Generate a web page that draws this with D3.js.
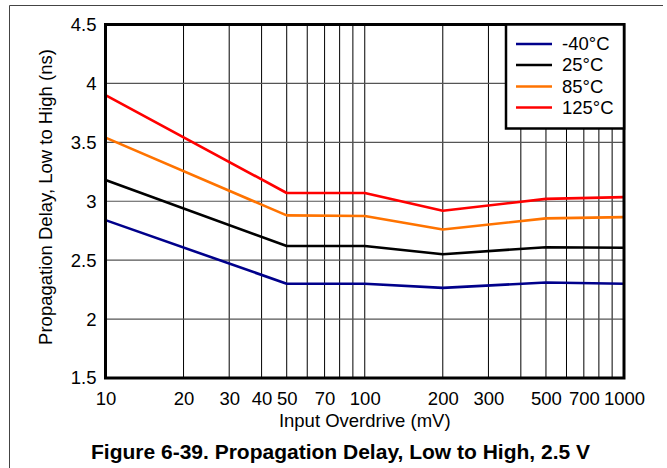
<!DOCTYPE html>
<html><head><meta charset="utf-8">
<script src="https://cdn.jsdelivr.net/npm/d3@7/dist/d3.min.js"></script>
<style>body{margin:0;background:#fff}svg{display:block;font-family:"Liberation Sans",Arial,sans-serif}</style>
</head><body>
<script>
const overdrive = [10, 50, 100, 200, 500, 1000];
const seriesNames = ["-40°C", "25°C", "85°C", "125°C"];
const seriesColors = ["#00008B", "#000000", "#FF7300", "#FF0000"];
const delayM40 = [2.84, 2.30, 2.30, 2.265, 2.31, 2.30];
const delay25 = [3.18, 2.62, 2.62, 2.55, 2.61, 2.605];
const delay85 = [3.54, 2.88, 2.875, 2.76, 2.855, 2.865];
const delay125 = [3.90, 3.07, 3.07, 2.92, 3.02, 3.035];
const xTicks = [10, 20, 30, 40, 50, 70, 100, 200, 300, 500, 700, 1000];
const xGrid = [20, 30, 40, 50, 60, 70, 80, 90, 100, 200, 300, 400, 500, 600, 700, 800, 900];
const yTicks = [1.5, 2, 2.5, 3, 3.5, 4, 4.5];
const series = [delayM40, delay25, delay85, delay125];

const W = 667, H = 468;
const L = 105.5, R = 624, T = 24.5, B = 378;
const svg = d3.select("body").append("svg").attr("width", W).attr("height", H);

// outer frame
svg.append("path").attr("d", `M9.5,${H} V5.5 H663`).attr("fill", "none").attr("stroke", "#444").attr("stroke-width", 1);

const x = d3.scaleLog().domain([10, 1000]).range([L, R]);
const y = d3.scaleLinear().domain([1.5, 4.5]).range([B, T]);

// grid
svg.append("g").selectAll("line").data(xGrid).join("line")
  .attr("x1", d => x(d)).attr("x2", d => x(d)).attr("y1", T).attr("y2", B)
  .attr("stroke", "#000").attr("stroke-width", 1);
svg.append("g").selectAll("line").data(yTicks.slice(1, -1)).join("line")
  .attr("x1", L).attr("x2", R).attr("y1", d => y(d)).attr("y2", d => y(d))
  .attr("stroke", "#555").attr("stroke-width", 1.2);

// axes labels via d3 axes (no tick lines)
const xAxis = d3.axisBottom(x).tickValues(xTicks).tickFormat(d3.format("d")).tickSize(0).tickPadding(14);
const gx = svg.append("g").attr("transform", `translate(0,${B})`).call(xAxis);
gx.select(".domain").remove();
gx.selectAll("text").attr("font-size", 18.5).attr("fill", "#000").attr("font-family", "Liberation Sans, Arial, sans-serif");

const yAxis = d3.axisLeft(y).tickValues(yTicks).tickFormat(d => d).tickSize(0).tickPadding(9);
const gy = svg.append("g").attr("transform", `translate(${L},0)`).call(yAxis);
gy.select(".domain").remove();
gy.selectAll("text").attr("font-size", 18.5).attr("fill", "#000").attr("font-family", "Liberation Sans, Arial, sans-serif");

// lines
const line = d3.line().x((d, i) => x(overdrive[i])).y(d => y(d));
svg.append("g").selectAll("path").data(series).join("path")
  .attr("d", line).attr("fill", "none")
  .attr("stroke", (d, i) => seriesColors[i]).attr("stroke-width", 2.6)
  .attr("stroke-linejoin", "round");

// plot border
svg.append("rect").attr("x", L).attr("y", T).attr("width", R - L).attr("height", B - T)
  .attr("fill", "none").attr("stroke", "#000").attr("stroke-width", 3);

// legend
const lg = svg.append("g");
lg.append("rect").attr("x", 506).attr("y", T).attr("width", R - 506).attr("height", 104)
  .attr("fill", "#fff").attr("stroke", "#000").attr("stroke-width", 2.5);
const rows = [44, 65, 86.5, 107.5];
seriesNames.forEach((n, i) => {
  lg.append("line").attr("x1", 516).attr("x2", 552).attr("y1", rows[i]).attr("y2", rows[i])
    .attr("stroke", seriesColors[i]).attr("stroke-width", 2.6);
  lg.append("text").attr("x", 562).attr("y", rows[i]).attr("dy", "0.35em")
    .attr("font-size", 18.5).text(n);
});

// axis titles
svg.append("text").attr("x", (L + R) / 2).attr("y", 421).attr("dy", "0.35em")
  .attr("text-anchor", "middle").attr("font-size", 18.5).text("Input Overdrive (mV)");
svg.append("text").attr("transform", `translate(46,197) rotate(-90)`).attr("dy", "0.35em")
  .attr("text-anchor", "middle").attr("font-size", 18.5).text("Propagation Delay, Low to High (ns)");

// figure title
svg.append("text").attr("x", 340.5).attr("y", 451.5).attr("dy", "0.35em")
  .attr("text-anchor", "middle").attr("font-size", 21).attr("font-weight", "bold")
  .text("Figure 6-39. Propagation Delay, Low to High, 2.5 V");
</script>
</body></html>
